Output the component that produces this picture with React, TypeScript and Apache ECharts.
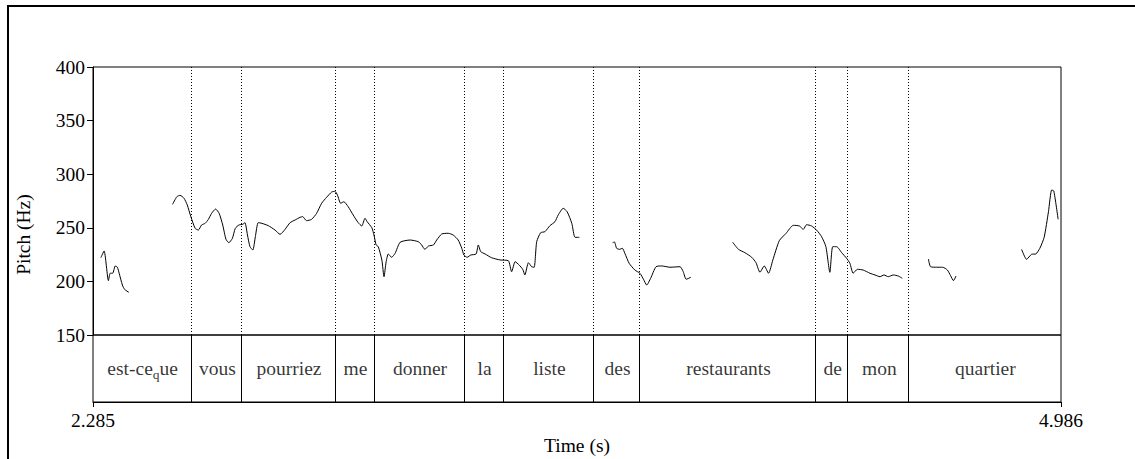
import React, { useEffect, useRef } from "react";
import * as echarts from "echarts";

const FONT = "Liberation Serif, Times New Roman, serif";
const FS = 19.5;

// Tier (words) and interval boundaries in seconds
const tierWords = ["est-ce_que", "vous", "pourriez", "me", "donner", "la", "liste", "des", "restaurants", "de", "mon", "quartier"];
const tierBounds = [2.285, 2.562, 2.702, 2.962, 3.073, 3.322, 3.433, 3.684, 3.813, 4.304, 4.394, 4.564, 4.986];

const timeMin = 2.285;
const timeMax = 4.986;
const pitchTicks = [150, 200, 250, 300, 350, 400];

// Pitch contour segments [time (s), pitch (Hz)]
const seg1 = [[2.307, 222.1], [2.316, 228.4], [2.328, 200.7], [2.333, 207.6], [2.340, 207.6], [2.347, 214.4], [2.353, 213.2], [2.358, 207.6], [2.367, 196.6], [2.373, 192.6], [2.385, 189.8]];
const seg2 = [[2.507, 271.9], [2.519, 279.0], [2.528, 280.3], [2.539, 277.5], [2.548, 271.3], [2.558, 260.4], [2.570, 249.5], [2.579, 247.9], [2.588, 252.6], [2.598, 254.2], [2.607, 257.9], [2.616, 263.5], [2.627, 267.5], [2.637, 263.5], [2.647, 252.6], [2.656, 239.3], [2.664, 236.1], [2.674, 240.2], [2.682, 249.5], [2.692, 252.6], [2.703, 253.3], [2.709, 254.8], [2.716, 243.3], [2.723, 232.4], [2.731, 229.3], [2.738, 241.7], [2.746, 254.8], [2.756, 254.2], [2.774, 252.0], [2.793, 247.9], [2.807, 243.9], [2.821, 248.6], [2.835, 254.8], [2.849, 257.3], [2.863, 259.8], [2.870, 260.4], [2.881, 256.6], [2.895, 257.9], [2.909, 263.5], [2.923, 272.9], [2.937, 278.5], [2.951, 283.4], [2.960, 284.0], [2.967, 280.6], [2.976, 272.9], [2.985, 274.3], [2.997, 269.7], [3.011, 261.9], [3.025, 254.8], [3.035, 251.7], [3.044, 258.9], [3.050, 255.7], [3.063, 250.1], [3.069, 243.3], [3.075, 234.0], [3.081, 232.4], [3.091, 220.0], [3.097, 204.4], [3.103, 218.4], [3.109, 225.6], [3.118, 222.5], [3.128, 226.2], [3.142, 236.5], [3.170, 238.6], [3.193, 237.0], [3.202, 234.0], [3.211, 229.9], [3.221, 233.0], [3.235, 234.0], [3.244, 238.6], [3.258, 244.2], [3.276, 244.9], [3.290, 243.3], [3.304, 238.6], [3.314, 230.9], [3.320, 224.6], [3.329, 222.5], [3.339, 224.6], [3.354, 225.6], [3.360, 234.0], [3.367, 227.7], [3.379, 225.6], [3.397, 222.1], [3.421, 220.0], [3.444, 219.3], [3.453, 209.0], [3.463, 218.4], [3.474, 215.3], [3.484, 211.3], [3.490, 206.0], [3.500, 217.4], [3.509, 213.7], [3.516, 213.2], [3.523, 237.0], [3.534, 245.4], [3.546, 246.4], [3.560, 252.0], [3.574, 255.7], [3.583, 261.9], [3.597, 268.2], [3.608, 265.0], [3.621, 254.2], [3.630, 241.1], [3.642, 241.1]];
const seg3 = [[3.735, 236.1], [3.740, 236.8], [3.746, 230.9], [3.754, 229.9], [3.762, 230.9], [3.769, 226.2], [3.781, 216.9], [3.797, 210.6], [3.811, 207.6], [3.821, 202.0], [3.830, 196.6], [3.841, 202.9], [3.856, 213.7], [3.872, 214.4], [3.895, 213.2], [3.923, 213.7], [3.932, 209.0], [3.940, 202.0], [3.953, 203.8]];
const seg4 = [[4.070, 236.5], [4.086, 229.9], [4.104, 226.8], [4.123, 222.5], [4.135, 217.4], [4.146, 208.5], [4.158, 214.4], [4.170, 207.6], [4.182, 220.0], [4.200, 238.0], [4.219, 244.9], [4.239, 252.3], [4.256, 251.7], [4.267, 248.6], [4.276, 252.9], [4.290, 251.7], [4.304, 247.9], [4.318, 241.7], [4.330, 232.4], [4.341, 208.5], [4.349, 232.4], [4.360, 232.4], [4.374, 226.8], [4.388, 221.5], [4.397, 216.9], [4.406, 207.6], [4.418, 211.3], [4.434, 210.6], [4.453, 207.6], [4.467, 206.0], [4.481, 204.4], [4.492, 206.0], [4.504, 204.4], [4.518, 206.0], [4.532, 205.0], [4.543, 202.9]];
const seg5 = [[4.616, 220.9], [4.622, 213.7], [4.639, 213.2], [4.656, 213.2], [4.669, 210.6], [4.678, 205.3], [4.686, 200.7], [4.693, 205.0]];
const seg6 = [[4.876, 229.9], [4.890, 220.6], [4.904, 225.3], [4.916, 225.6], [4.927, 230.9], [4.939, 241.1], [4.951, 265.0], [4.960, 285.3], [4.966, 284.3], [4.978, 257.9]];

const pitchSegments = [seg1, seg2, seg3, seg4, seg5, seg6];

function buildOption() {
  const inner = tierBounds.slice(1, -1);
  const wordData = tierWords.map((w, i) => [(tierBounds[i] + tierBounds[i + 1]) / 2, 0.5, w]);

  const pitchSeries: any[] = pitchSegments.map((seg, i) => ({
    type: "line",
    xAxisIndex: 0,
    yAxisIndex: 0,
    data: seg,
    showSymbol: false,
    symbol: "none",
    smooth: 0.2,
    silent: true,
    lineStyle: { color: "#000", width: 1 },
    markLine:
      i === 0
        ? {
            silent: true,
            symbol: "none",
            label: { show: false },
            lineStyle: { color: "#000", width: 1, type: [1, 2] },
            data: inner.map((t) => ({ xAxis: t })),
          }
        : undefined,
  }));

  return {
    animation: false,
    backgroundColor: "#fff",
    textStyle: { fontFamily: FONT, color: "#000" },
    graphic: [
      {
        type: "rect",
        shape: { x: 8, y: 6, width: 1300, height: 700 },
        style: { fill: "none", stroke: "#000", lineWidth: 2 },
        silent: true,
      },
    ],
    grid: [
      { left: 93, top: 67, width: 968, height: 268, show: true, borderColor: "#000", borderWidth: 1, backgroundColor: "transparent" },
      { left: 93, top: 335, width: 968, height: 67, show: true, borderColor: "#000", borderWidth: 1, backgroundColor: "transparent" },
      // whole drawing area (pitch + tier), used only to centre the vertical title
      { left: 93, top: 67, width: 968, height: 335, show: false },
    ],
    xAxis: [
      { type: "value", gridIndex: 0, min: timeMin, max: timeMax, show: false },
      {
        type: "value",
        gridIndex: 1,
        min: timeMin,
        max: timeMax,
        axisLine: { show: true, lineStyle: { color: "#000", width: 1 } },
        axisTick: { show: true, customValues: [timeMin, timeMax], length: 5, lineStyle: { color: "#000" } },
        axisLabel: {
          show: true,
          customValues: [timeMin, timeMax],
          formatter: (v: number) => v.toFixed(3),
          color: "#000",
          fontFamily: FONT,
          fontSize: FS,
          margin: 8,
        },
        splitLine: { show: false },
        name: "Time (s)",
        nameLocation: "middle",
        nameGap: 33,
        nameTextStyle: { color: "#000", fontFamily: FONT, fontSize: FS },
      },
      { type: "value", gridIndex: 2, min: timeMin, max: timeMax, show: false },
    ],
    yAxis: [
      {
        type: "value",
        gridIndex: 0,
        min: 150,
        max: 400,
        interval: 50,
        axisLine: { show: true, lineStyle: { color: "#000", width: 1 } },
        axisTick: { show: true, length: 6, lineStyle: { color: "#000" }, customValues: pitchTicks },
        axisLabel: { color: "#000", fontFamily: FONT, fontSize: FS, margin: 8, customValues: pitchTicks },
        splitLine: { show: false },
      },
      { type: "value", gridIndex: 1, min: 0, max: 1, show: false },
      {
        type: "value",
        gridIndex: 2,
        min: 0,
        max: 1,
        axisLine: { show: false },
        axisTick: { show: false },
        axisLabel: { show: false },
        splitLine: { show: false },
        name: "Pitch (Hz)",
        nameLocation: "middle",
        nameGap: 60,
        nameTextStyle: { color: "#000", fontFamily: FONT, fontSize: FS },
      },
    ],
    series: [
      ...pitchSeries,
      {
        type: "scatter",
        xAxisIndex: 1,
        yAxisIndex: 1,
        data: wordData,
        symbolSize: 0,
        silent: true,
        label: {
          show: true,
          position: "inside",
          formatter: (p: any) => {
            const w: string = p.data[2];
            const idx = w.indexOf("_");
            if (idx >= 0) {
              return `{w|${w.slice(0, idx)}}{q|${w.charAt(idx + 1)}}{w|${w.slice(idx + 2)}}`;
            }
            return `{w|${w}}`;
          },
          rich: {
            w: { fontFamily: FONT, fontSize: FS, lineHeight: 26, color: "#000" },
            q: { fontFamily: FONT, fontSize: 13.5, lineHeight: 14, verticalAlign: "bottom", color: "#000" },
          },
        },
        markLine: {
          silent: true,
          symbol: "none",
          label: { show: false },
          lineStyle: { color: "#000", width: 1, type: "solid" },
          data: inner.map((t) => ({ xAxis: t })),
        },
      },
    ],
  };
}

export default function App() {
  const ref = useRef<HTMLDivElement>(null);
  useEffect(() => {
    const chart = echarts.init(ref.current!, null, { renderer: "svg" });
    chart.setOption(buildOption() as any);
    return () => chart.dispose();
  }, []);
  return (
    <div
      ref={ref}
      style={{ position: "absolute", left: 0, top: 0, width: 1135, height: 459, background: "#fff" }}
    />
  );
}
